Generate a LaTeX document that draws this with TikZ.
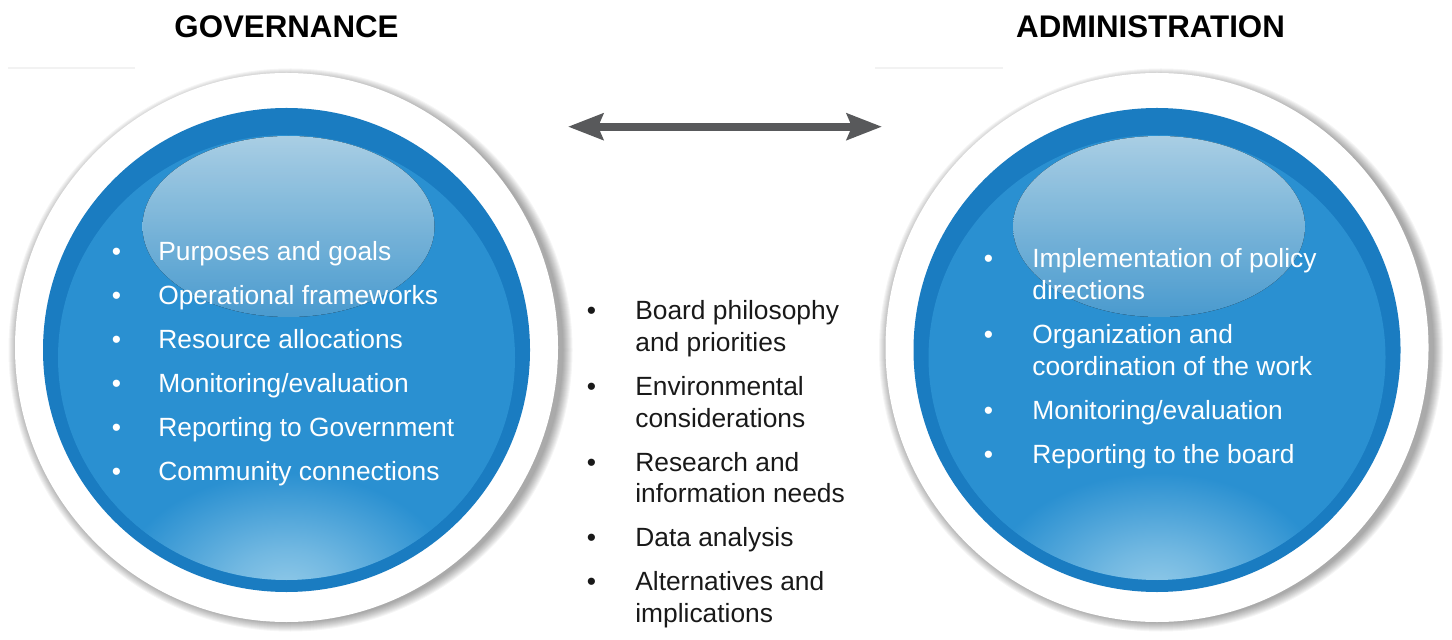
\documentclass[tikz,border=0pt]{standalone}
\usepackage{fontspec}
\setmainfont{Liberation Sans}
\usetikzlibrary{arrows.meta}
\begin{document}
\begin{tikzpicture}[x=0.02cm, y=0.02cm,
  heading/.style={font=\fontsize{17.8pt}{21pt}\selectfont\bfseries, anchor=base, inner sep=0pt, text=black},
  bubbletext/.style={font=\fontsize{15pt}{17.93pt}\selectfont, anchor=base west, inner sep=0pt, text=white},
  sidetext/.style={bubbletext, text=black!90},
  softshadow/.style={fill=black, opacity=0.04},
  twoway/.style={{Stealth[length=0.7cm, width=0.52cm, inset=0.1cm]}-{Stealth[length=0.7cm, width=0.52cm, inset=0.1cm]}, line width=0.16cm, draw=arrowgrey}]
\definecolor{ringblue}{HTML}{1A7CC1}
\definecolor{innerblue}{HTML}{2A90D1}
\definecolor{glowblue}{HTML}{90C9E8}
\definecolor{shinetop}{HTML}{B2D9F0}
\definecolor{shinebottom}{HTML}{4EA3D9}
\definecolor{arrowgrey}{HTML}{58595B}
\pgfdeclareradialshading{bottomglow}{\pgfpoint{0bp}{0bp}}{color(0bp)=(glowblue); color(6bp)=(glowblue!70!innerblue); color(17.6bp)=(innerblue); color(50bp)=(innerblue)}
\useasboundingbox (0,0) rectangle (1452,639);
\draw[black!5, line width=0.03cm] (8,571) -- (135,571) (875,571) -- (1003,571);
\foreach \cx in {286.5,1157} {
  \foreach \k in {0,...,9}
    \fill[softshadow] (\cx+4,289) ellipse [x radius={282-\k}, y radius={281.5-\k}];
  \fill[white] (\cx,291.5) ellipse [x radius=271.5, y radius=274.5];
  \fill[ringblue] (\cx,289) ellipse [x radius=243.5, y radius=242];
  \fill[innerblue] (\cx,281.5) ellipse [x radius=228.5, y radius=222.5];
  \begin{scope}
    \clip (\cx,281.5) ellipse [x radius=228.5, y radius=222.5];
    \shade[shading=bottomglow] (\cx,50) ellipse [x radius=240, y radius=165];
  \end{scope}
  \fill[top color=shinetop, bottom color=shinebottom, opacity=0.95] (\cx+2,412.5) ellipse [x radius=146, y radius=90.5];
}
\coordinate (arrL) at (568,512.3);
\coordinate (arrR) at (882,512.3);
\draw[twoway] (arrL) -- (arrR);
\node[heading] (govT) at (286.5,601.5) {GOVERNANCE};
\node[heading] (admT) at (1150.5,601.5) {ADMINISTRATION};
\node[bubbletext] (govList) at (111.4,378.5) {\begin{tabular}[t]{@{}p{0.932cm}@{}l@{}}
\textbullet & Purposes and goals\\[0.25cm]
\textbullet & Operational frameworks\\[0.25cm]
\textbullet & Resource allocations\\[0.25cm]
\textbullet & Monitoring/evaluation\\[0.25cm]
\textbullet & Reporting to Government\\[0.25cm]
\textbullet & Community connections
\end{tabular}};
\node[sidetext] (midList) at (586.4,319) {\begin{tabular}[t]{@{}p{0.972cm}@{}l@{}}
\textbullet & Board philosophy\\
 & and priorities\\[0.25cm]
\textbullet & Environmental\\
 & considerations\\[0.25cm]
\textbullet & Research and\\
 & information needs\\[0.25cm]
\textbullet & Data analysis\\[0.25cm]
\textbullet & Alternatives and\\
 & implications
\end{tabular}};
\node[bubbletext] (admList) at (983.4,371) {\begin{tabular}[t]{@{}p{0.972cm}@{}l@{}}
\textbullet & Implementation of policy\\
 & directions\\[0.25cm]
\textbullet & Organization and\\
 & coordination of the work\\[0.25cm]
\textbullet & Monitoring/evaluation\\[0.25cm]
\textbullet & Reporting to the board
\end{tabular}};
\end{tikzpicture}
\end{document}
